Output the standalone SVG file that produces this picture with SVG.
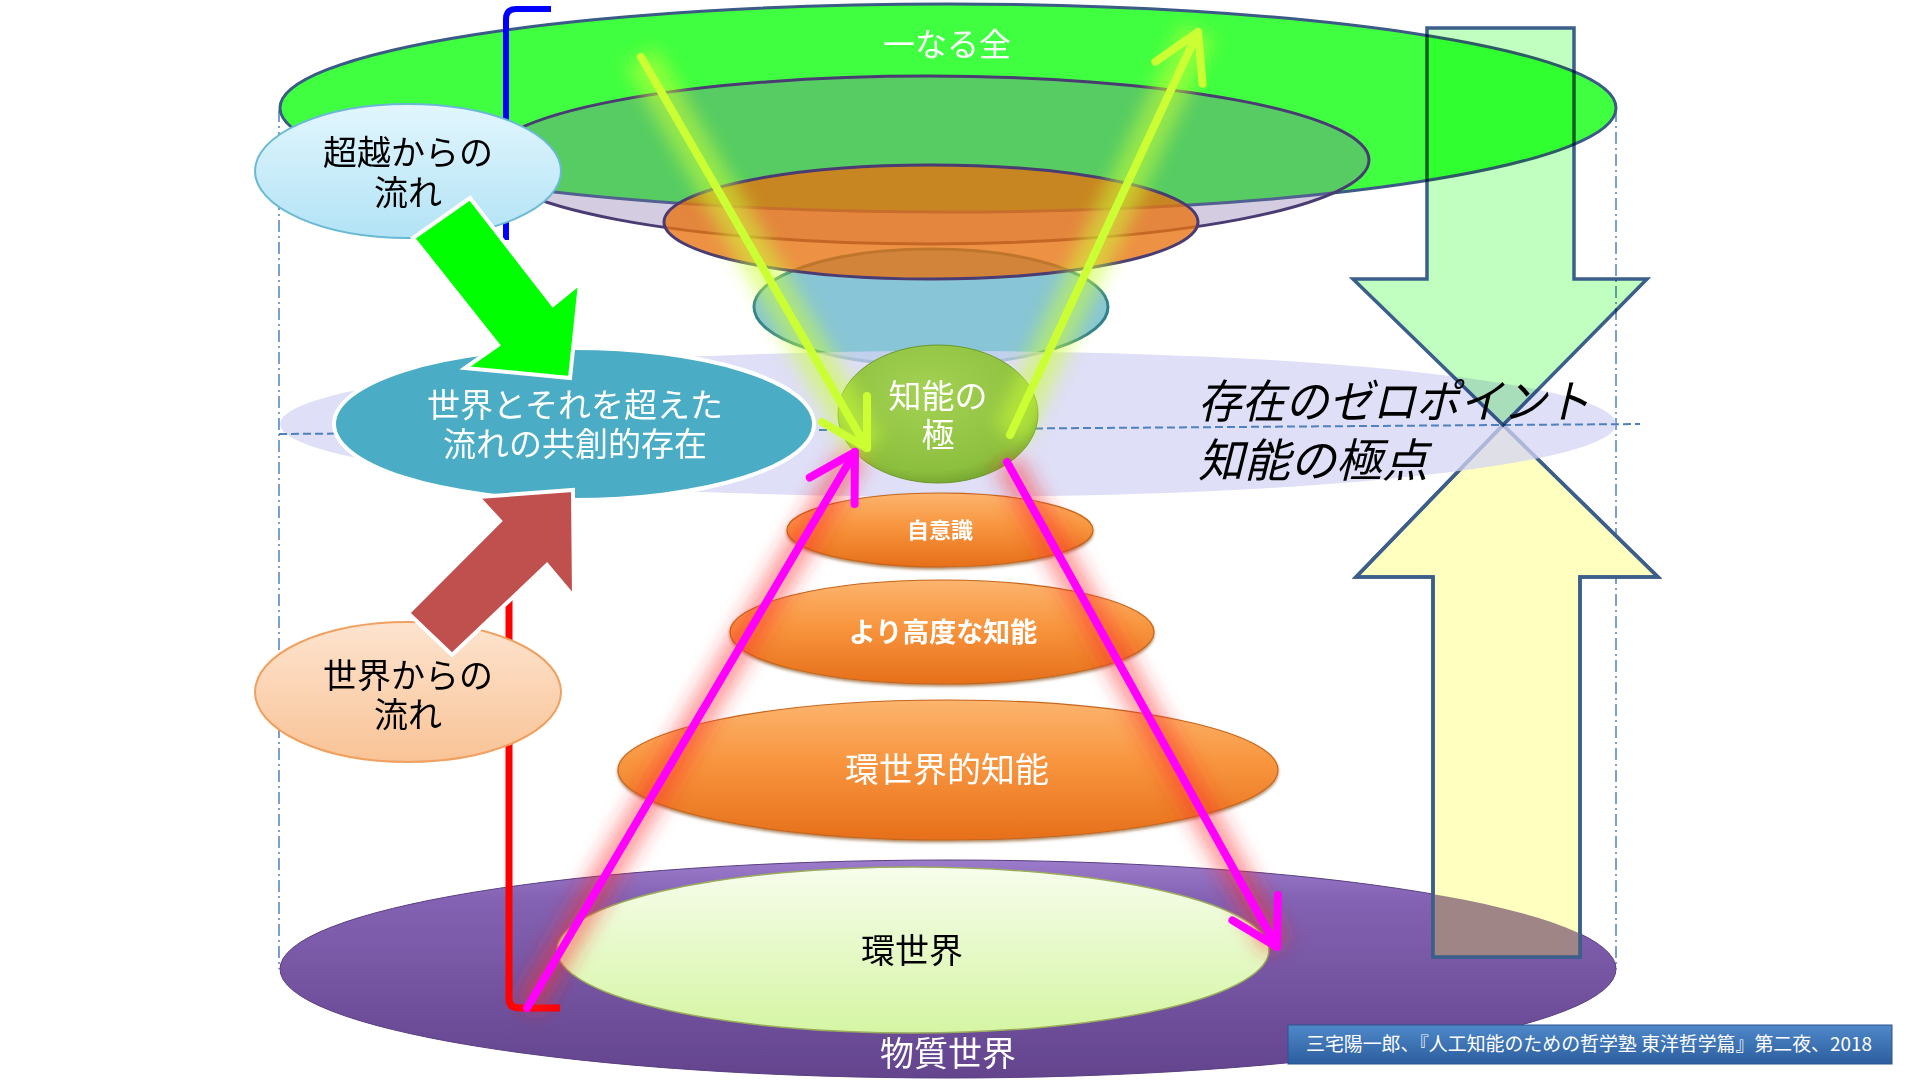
<svg xmlns="http://www.w3.org/2000/svg" width="1920" height="1080" viewBox="0 0 1920 1080">
<defs>
<style>
.t{font-family:"Noto Sans CJK JP","Noto Sans",sans-serif;text-anchor:middle}
.w{fill:#ffffff}
.k{fill:#000000}
.guide{fill:none;stroke:#4f81bd;stroke-width:1.5;stroke-dasharray:12 4 2 4}
.dash{fill:none;stroke:#4f81bd;stroke-width:2;stroke-dasharray:8 4}
.ylw{fill:none;stroke:#ccff33;stroke-width:8;stroke-linecap:round}
.mag{fill:none;stroke:#ff00ff;stroke-width:8;stroke-linecap:round}
.yglow{fill:none;stroke:#ccff33;stroke-width:36;opacity:.55}
.mglow{fill:none;stroke:#ff2a2a;stroke-width:30;opacity:.45}
.orng{fill:url(#gOr);stroke:#c8661a;stroke-width:1.2;filter:url(#shd)}
.blk{stroke:#ffffff;stroke-width:4;stroke-linejoin:miter}
.bigarr{stroke:#3b5f8a;stroke-width:3.5;stroke-linejoin:miter}
</style>
<linearGradient id="gPur" x1="0" y1="0" x2="0" y2="1"><stop offset="0" stop-color="#9c7bcb"/><stop offset=".18" stop-color="#8462b3"/><stop offset="1" stop-color="#63448d"/></linearGradient>
<linearGradient id="gEnv" x1="0" y1="0" x2="0" y2="1"><stop offset="0" stop-color="#f7fdec"/><stop offset="1" stop-color="#d5f5a3"/></linearGradient>
<linearGradient id="gOr" x1="0" y1="0" x2="0" y2="1"><stop offset="0" stop-color="#fcb46e"/><stop offset=".45" stop-color="#f8953e"/><stop offset="1" stop-color="#e66f1a"/></linearGradient>
<radialGradient id="gCir" cx=".45" cy=".35" r=".7"><stop offset="0" stop-color="#a4d254"/><stop offset=".8" stop-color="#8dbf3e"/><stop offset="1" stop-color="#6f9e2c"/></radialGradient>
<linearGradient id="gCyan" x1="0" y1="0" x2="0" y2="1"><stop offset="0" stop-color="#e2f6fd"/><stop offset="1" stop-color="#b2e3f6"/></linearGradient>
<linearGradient id="gPeach" x1="0" y1="0" x2="0" y2="1"><stop offset="0" stop-color="#fde4cf"/><stop offset="1" stop-color="#f9c396"/></linearGradient>
<linearGradient id="gCred" x1="0" y1="0" x2="0" y2="1"><stop offset="0" stop-color="#4f88c9"/><stop offset="1" stop-color="#2c5e9e"/></linearGradient>
<filter id="blur" filterUnits="userSpaceOnUse" x="0" y="0" width="1920" height="1080"><feGaussianBlur stdDeviation="9"/></filter>
<filter id="shd" x="-10%" y="-20%" width="120%" height="150%"><feDropShadow dx="0" dy="2" stdDeviation="1.5" flood-color="#7a3a00" flood-opacity=".6"/></filter>
<clipPath id="purClip"><ellipse cx="948" cy="969" rx="668" ry="109"/></clipPath>
<marker id="ahY" markerUnits="userSpaceOnUse" orient="auto" refX="0" refY="0" viewBox="-60 -40 80 80" markerWidth="80" markerHeight="80" overflow="visible">
<path d="M-45,-26 L0,0 L-45,26" fill="none" stroke="#ccff33" stroke-width="8" stroke-linecap="round" stroke-linejoin="round"/>
</marker>
<marker id="ahM" markerUnits="userSpaceOnUse" orient="auto" refX="0" refY="0" viewBox="-60 -40 80 80" markerWidth="80" markerHeight="80" overflow="visible">
<path d="M-45,-26 L0,0 L-45,26" fill="none" stroke="#ff00ff" stroke-width="8" stroke-linecap="round" stroke-linejoin="round"/>
</marker>
</defs>

<rect x="0" y="0" width="1920" height="1080" fill="#ffffff"/>

<g id="guides">
<line class="guide" x1="279" y1="110" x2="279" y2="969"/>
<line class="guide" x1="1616" y1="110" x2="1616" y2="969"/>
</g>

<g id="material-world">
<ellipse cx="948" cy="969" rx="668" ry="109" fill="url(#gPur)" stroke="#5a3f82" stroke-width="1"/>
<text class="t w" x="948" y="1066" font-size="34">物質世界</text>
</g>

<g id="umwelt">
<ellipse cx="913" cy="950" rx="356" ry="83" fill="url(#gEnv)" stroke="#9aac5c" stroke-width="1.5"/>
<text class="t k" x="912" y="963" font-size="34">環世界</text>
</g>

<g id="up-arrow">
<path class="bigarr" d="M1433,957 V577 H1356 L1503,425 L1658,577 H1580 V957 Z" fill="#ffffc0"/>
<rect x="1433" y="850" width="147" height="107" fill="#9f8585" clip-path="url(#purClip)"/>
<path class="bigarr" d="M1433,957 V577 H1356 L1503,425 L1658,577 H1580 V957 Z" fill="none"/>
</g>

<g id="one-whole">
<ellipse cx="948" cy="108" rx="668" ry="104" fill="#40ff40" stroke="#3b5a86" stroke-width="3"/>
<text class="t w" x="947" y="56" font-size="32">一なる全</text>
</g>
<g id="layer2">
<ellipse cx="928" cy="160" rx="441" ry="84" fill="#806aa8" fill-opacity=".34" stroke="#4b3b73" stroke-width="3"/>
</g>
<g id="layer4">
<ellipse cx="931" cy="307" rx="177" ry="58" fill="#88c5d6" stroke="#2f7f8e" stroke-width="3"/>
</g>
<g id="layer3">
<ellipse cx="931" cy="222" rx="267" ry="57" fill="#e8720f" fill-opacity=".78" stroke="#4b3b73" stroke-width="3"/>
</g>

<g id="zero-band">
<ellipse cx="948" cy="424" rx="668" ry="73" fill="#d4d4f4" opacity=".75"/>
<line class="dash" x1="279" y1="434" x2="1640" y2="424"/>
</g>

<g id="zero-label">
<text x="1198" y="418" font-size="46" font-style="italic" font-family="'Noto Sans CJK JP','Noto Sans',sans-serif" textLength="392" lengthAdjust="spacingAndGlyphs">存在のゼロポイント</text>
<text x="1198" y="477" font-size="46" font-style="italic" font-family="'Noto Sans CJK JP','Noto Sans',sans-serif">知能の極点</text>
</g>

<g id="down-arrow">
<path class="bigarr" d="M1427,28 H1574 V279 H1647 L1503,425 L1353,279 H1427 Z" fill="#c0ffc0" style="mix-blend-mode:multiply"/>
</g>

<g id="brackets">
<path d="M551,9 H516 Q506,9 506,19 V240" fill="none" stroke="#0000ff" stroke-width="6"/>
<path d="M509,580 V998 Q509,1008 519,1008 H560" fill="none" stroke="#ff0000" stroke-width="7"/>
</g>

<g id="co-creation">
<ellipse cx="574" cy="424" rx="240" ry="76" fill="#4bacc6" stroke="#ffffff" stroke-width="4"/>
<text class="t w" font-size="33"><tspan x="575" y="417">世界とそれを超えた</tspan><tspan x="575" y="456">流れの共創的存在</tspan></text>
</g>

<g id="from-transcendence">
<ellipse cx="408" cy="171" rx="153" ry="67" fill="url(#gCyan)" stroke="#6ab9d4" stroke-width="2"/>
<text class="t k" font-size="34"><tspan x="408" y="165">超越からの</tspan><tspan x="408" y="205">流れ</tspan></text>
</g>

<g id="from-world">
<ellipse cx="408" cy="692" rx="153" ry="70" fill="url(#gPeach)" stroke="#f0a060" stroke-width="2"/>
<text class="t k" font-size="34"><tspan x="408" y="688">世界からの</tspan><tspan x="408" y="727">流れ</tspan></text>
</g>

<g id="block-arrows">
<polygon class="blk" points="470,198 553,305 580,283 570,378 465,368 498,345 413,238" fill="#00ff00"/>
<polygon class="blk" points="408,613 500,521 478,497 573,490 574,597 547,565 452,655" fill="#c0504d"/>
</g>

<g id="pole">
<ellipse cx="938" cy="414" rx="100" ry="69" fill="url(#gCir)" stroke="#6a9a2a" stroke-width="1"/>
<text class="t w" font-size="33"><tspan x="938" y="408">知能の</tspan><tspan x="938" y="447">極</tspan></text>
</g>

<g id="self-awareness">
<ellipse class="orng" cx="940" cy="530" rx="153" ry="37"/>
<text class="t w" x="940" y="538" font-size="22" font-weight="bold">自意識</text>
</g>
<g id="higher-intelligence">
<ellipse class="orng" cx="942" cy="632" rx="212" ry="52"/>
<text class="t w" x="943" y="642" font-size="27" font-weight="bold">より高度な知能</text>
</g>
<g id="umwelt-intelligence">
<ellipse class="orng" cx="948" cy="770" rx="330" ry="70"/>
<text class="t w" x="947" y="782" font-size="34">環世界的知能</text>
</g>

<g id="connectors">
<g filter="url(#blur)">
<line class="yglow" x1="641" y1="57" x2="867" y2="448"/>
<line class="yglow" x1="1010" y1="435" x2="1198" y2="32"/>
<line class="mglow" x1="527" y1="1008" x2="855" y2="452"/>
<line class="mglow" x1="1007" y1="462" x2="1277" y2="947"/>
</g>
<line class="ylw" x1="641" y1="57" x2="867" y2="448" marker-end="url(#ahY)"/>
<line class="ylw" x1="1010" y1="435" x2="1198" y2="32" marker-end="url(#ahY)"/>
<line class="mag" x1="527" y1="1008" x2="855" y2="452" marker-end="url(#ahM)"/>
<line class="mag" x1="1007" y1="462" x2="1277" y2="947" marker-end="url(#ahM)"/>
</g>

<g id="credit">
<rect x="1288" y="1025" width="604" height="39" fill="url(#gCred)" stroke="#2a5590" stroke-width="1"/>
<text class="t w" x="1589" y="1051" font-size="19" textLength="566" lengthAdjust="spacingAndGlyphs">三宅陽一郎、『人工知能のための哲学塾 東洋哲学篇』第二夜、2018</text>
</g>
</svg>
